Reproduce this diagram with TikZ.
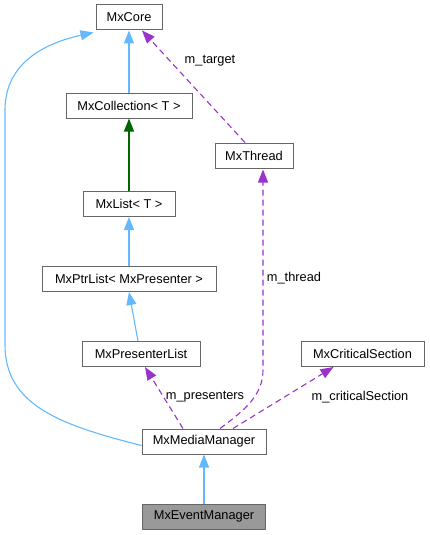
\documentclass[tikz,border=0pt]{standalone}
\usepackage{fontspec}
\setmainfont{Liberation Sans}
\usetikzlibrary{arrows.meta}
\definecolor{inherit}{HTML}{63B8FF}
\definecolor{usage}{HTML}{9A32CD}
\definecolor{tmpl}{HTML}{006400}
\definecolor{boxline}{HTML}{666666}
\begin{document}
\begin{tikzpicture}[x=1pt,y=-1pt,
	cls/.style={draw=boxline,line width=1pt,fill=white,inner sep=0pt,minimum height=25pt,font=\fontsize{12.8}{15}\selectfont},
	cur/.style={cls,fill=black!40},
	isa/.style={draw=inherit,line width=1.1pt,-{Triangle[length=13pt,width=10pt]}},
	has/.style={draw=usage,line width=1.1pt,-{Triangle[length=13pt,width=10pt]},dash pattern=on 6pt off 4pt},
	lbl/.style={font=\fontsize{12.8}{15}\selectfont,inner sep=0pt}]
\useasboundingbox (0,0) rectangle (429,535);
% classes
\node (core) [cls,minimum width=66pt] at (129,17.5) {MxCore};
\node (coll) [cls,minimum width=126pt] at (129,105.5) {MxCollection< T >};
\node (thread) [cls,minimum width=78pt] at (254,155.5) {MxThread};
\node (list) [cls,minimum width=92pt] at (129,204) {MxList< T >};
\node (ptr) [cls,minimum width=174pt] at (129,279) {MxPtrList< MxPresenter >};
\node (pres) [cls,minimum width=118pt] at (141,354) {MxPresenterList};
\node (crit) [cls,minimum width=123pt] at (362.5,354) {MxCriticalSection};
\node (media) [cls,minimum width=124pt] at (204,441.5) {MxMediaManager};
\node (event) [cur,minimum width=123pt] at (204,516.5) {MxEventManager};
% inheritance
\draw [isa] (coll.north) -- (core.south);
\draw [isa,draw=tmpl] (list.north) -- (coll.south);
\draw [isa] (ptr.north) -- (list.south);
\draw [isa] ([xshift=-3pt]pres.north) -- (ptr.south);
\draw [isa] (event.north) -- (media.south);
\draw [isa] ([yshift=-4pt]media.west) .. controls (60,425) and (5,405) .. (5,345)
	-- (5,110) .. controls (5,60) and (50,42) .. ([xshift=-2pt,yshift=-2pt]core.south west);
% members
\draw [has] ([xshift=-9pt]thread.north) -- ([xshift=13pt]core.south);
\node [lbl] at (210,61) {m\_target};
\draw [has] ([xshift=16pt]media.north) .. controls (245,410) and (263,395) .. (263,370)
	-- ([xshift=9pt,yshift=-1pt]thread.south);
\node [lbl] at (294,278) {m\_thread};
\draw [has] ([xshift=-21pt]media.north) -- ([xshift=4pt]pres.south);
\node [lbl] at (205,397) {m\_presenters};
\draw [has] ([xshift=29pt]media.north) -- ([xshift=-29pt]crit.south);
\node [lbl] at (360,397) {m\_criticalSection};
\end{tikzpicture}
\end{document}
